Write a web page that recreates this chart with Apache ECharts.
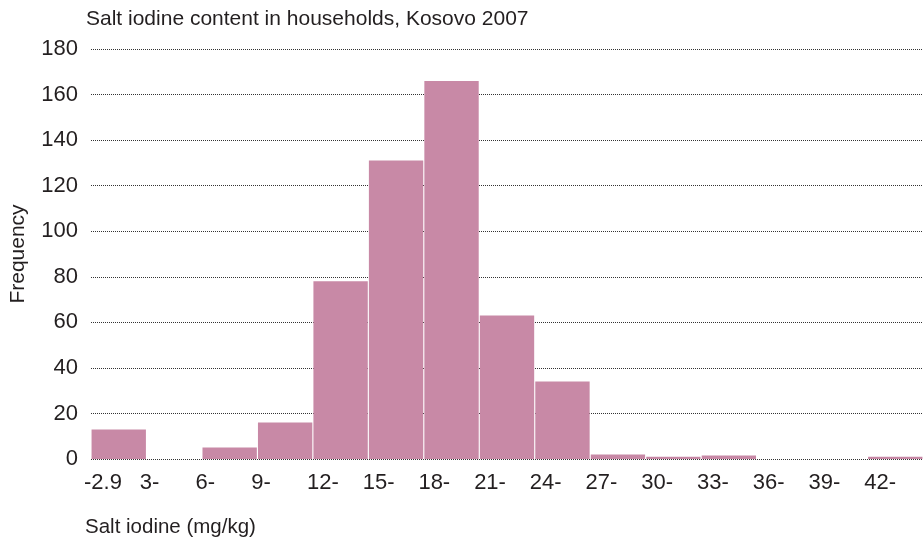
<!DOCTYPE html>
<html><head><meta charset="utf-8">
<script src="https://cdn.jsdelivr.net/npm/echarts@6/dist/echarts.min.js"></script>
<style>html,body{margin:0;padding:0;background:#fff}#c{width:923px;height:540px}</style>
</head><body><div id="c"></div>
<script>
var categories = ['-2.9','3-','6-','9-','12-','15-','18-','21-','24-','27-','30-','33-','36-','39-','42-'];
var tickLabels = ['-2.9','3-','6-','9-','12-','15-','18-','21-','24-','27-','30-','33-','36-','39-','42-',''];
var frequency = [13, 0, 5, 16, 78, 131, 166, 63, 34, 2, 1, 1.5, 0, 0, 1];
var yTicks = [0, 180, 20];

var FONT = '"Liberation Sans", Arial, sans-serif';
var TXT = '#231f20';
var chart = echarts.init(document.getElementById('c'), null, {renderer: 'canvas'});
chart.setOption({
  animation: false,
  title: [
    {text: 'Salt iodine content in households, Kosovo 2007', left: 86, top: 9, padding: 0,
     textStyle: {fontFamily: FONT, fontSize: 21, fontWeight: 'normal', color: TXT}},
    {text: 'Salt iodine (mg/kg)', left: 85, top: 517, padding: 0,
     textStyle: {fontFamily: FONT, fontSize: 20.5, fontWeight: 'normal', color: TXT}}
  ],
  grid: [
    {left: 87, right: -6, top: 49, bottom: 81, containLabel: false},
    {left: 84, right: -3, top: 49, bottom: 81, containLabel: false}
  ],
  xAxis: [
    {type: 'category', gridIndex: 0, data: categories, boundaryGap: true,
     axisLine: {show: false}, axisTick: {show: false}, axisLabel: {show: false}},
    {type: 'category', gridIndex: 1, data: tickLabels, boundaryGap: false, position: 'bottom',
     axisLine: {show: false}, axisTick: {show: false}, splitLine: {show: false},
     axisLabel: {interval: 0, align: 'left', margin: 13, fontFamily: FONT, fontSize: 22, color: TXT}}
  ],
  yAxis: [
    {type: 'value', gridIndex: 0, min: yTicks[0], max: yTicks[1], interval: yTicks[2],
     name: 'Frequency', nameLocation: 'middle', nameGap: 62, nameRotate: 90,
     nameTextStyle: {fontFamily: FONT, fontSize: 21, color: TXT},
     axisLine: {show: false}, axisTick: {show: false},
     axisLabel: {margin: 13, fontFamily: FONT, fontSize: 22, color: TXT},
     splitLine: {lineStyle: {type: 'dotted', color: '#333', width: 1}}},
    {type: 'value', gridIndex: 1, min: yTicks[0], max: yTicks[1], show: false,
     splitLine: {show: false}}
  ],
  series: [{type: 'bar', xAxisIndex: 0, yAxisIndex: 0, data: frequency, barCategoryGap: '2%',
    itemStyle: {color: '#C889A6'}}]
});
</script></body></html>
